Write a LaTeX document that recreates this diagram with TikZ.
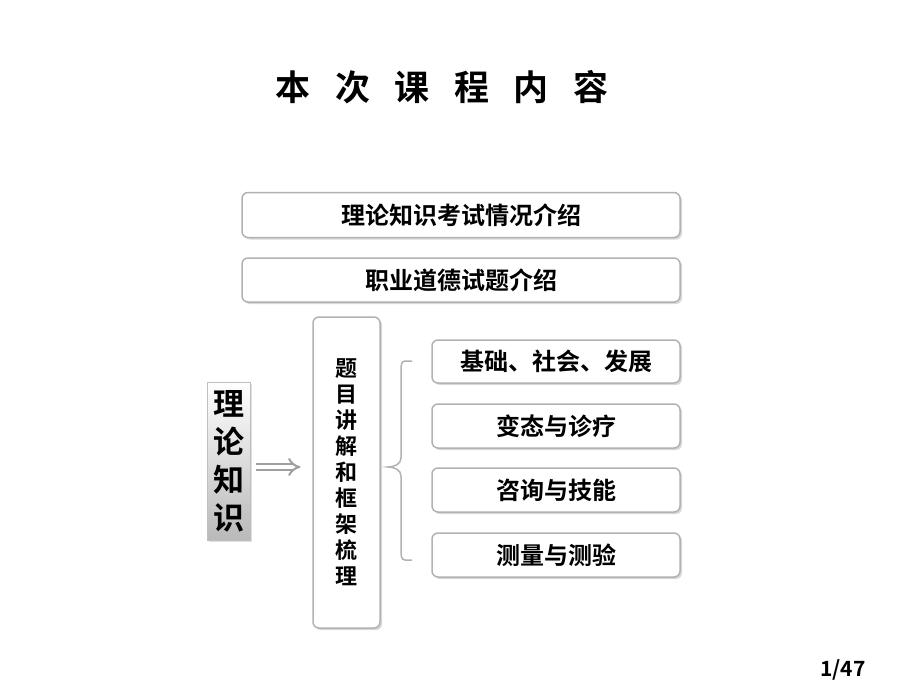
\documentclass[tikz,border=0pt]{standalone}
\usepackage{fontspec}
\setmainfont{Noto Sans CJK SC}[BoldFont={* Bold}]
\usetikzlibrary{shadows,arrows.meta}
\begin{document}
\begin{tikzpicture}[x=1pt,y=-1pt,
  box/.style={draw=gray!60,line width=1.5pt,rounded corners=6pt,fill=white,
    drop shadow={shadow xshift=2pt,shadow yshift=-2pt,fill=gray!60},
    font=\bfseries\fontsize{24}{28}\selectfont,inner sep=0pt}]
\useasboundingbox (0,0) rectangle (920,690);
\node[font=\bfseries\fontsize{35}{40}\selectfont] (title) at (442,87) {本\hspace{0.7em}次\hspace{0.7em}课\hspace{0.7em}程\hspace{0.7em}内\hspace{0.7em}容};
\node[box,minimum width=438pt,minimum height=45pt] (b1) at (461,215) {理论知识考试情况介绍};
\node[box,minimum width=438pt,minimum height=44pt] (b2) at (461,280) {职业道德试题介绍};
\node[box,minimum width=67pt,minimum height=311pt,align=center,font=\bfseries\fontsize{22}{26}\selectfont] (tall) at (346.5,472.5) {题\\目\\讲\\解\\和\\框\\架\\梳\\理};
\node[draw=gray!50,line width=0.8pt,top color=white,bottom color=gray!55,minimum width=43pt,minimum height=158pt,align=center,inner sep=0pt,
  drop shadow={shadow xshift=2pt,shadow yshift=-2pt,fill=gray!50},
  font=\bfseries\fontsize{31}{38}\selectfont] (lk) at (228.5,461) {理\\论\\知\\识};
\node[box,minimum width=248pt,minimum height=43pt] (r1) at (556,361.5) {基础、社会、发展};
\node[box,minimum width=248pt,minimum height=44pt] (r2) at (556,426) {变态与诊疗};
\node[box,minimum width=248pt,minimum height=44pt] (r3) at (556,490) {咨询与技能};
\node[box,minimum width=248pt,minimum height=44pt] (r4) at (556,555) {测量与测验};
\draw[gray!75,line width=2pt,double=white,double distance=4pt,-{Implies}] (lk.east)++(6,6) -- ++(44,0);
\coordinate (bt) at (412,361);
\coordinate (bb) at (412,560);
\draw[gray!60,line width=1.5pt] (bt) -- (405,361) to[out=180,in=90] (401,370) -- (401,458) to[out=-90,in=0] (388,467) to[out=0,in=90] (401,476) -- (401,551) to[out=-90,in=180] (405,560) -- (bb);
\node[font=\bfseries\fontsize{21}{24}\selectfont] (pg) at (843,670) {1/47};
\end{tikzpicture}
\end{document}
